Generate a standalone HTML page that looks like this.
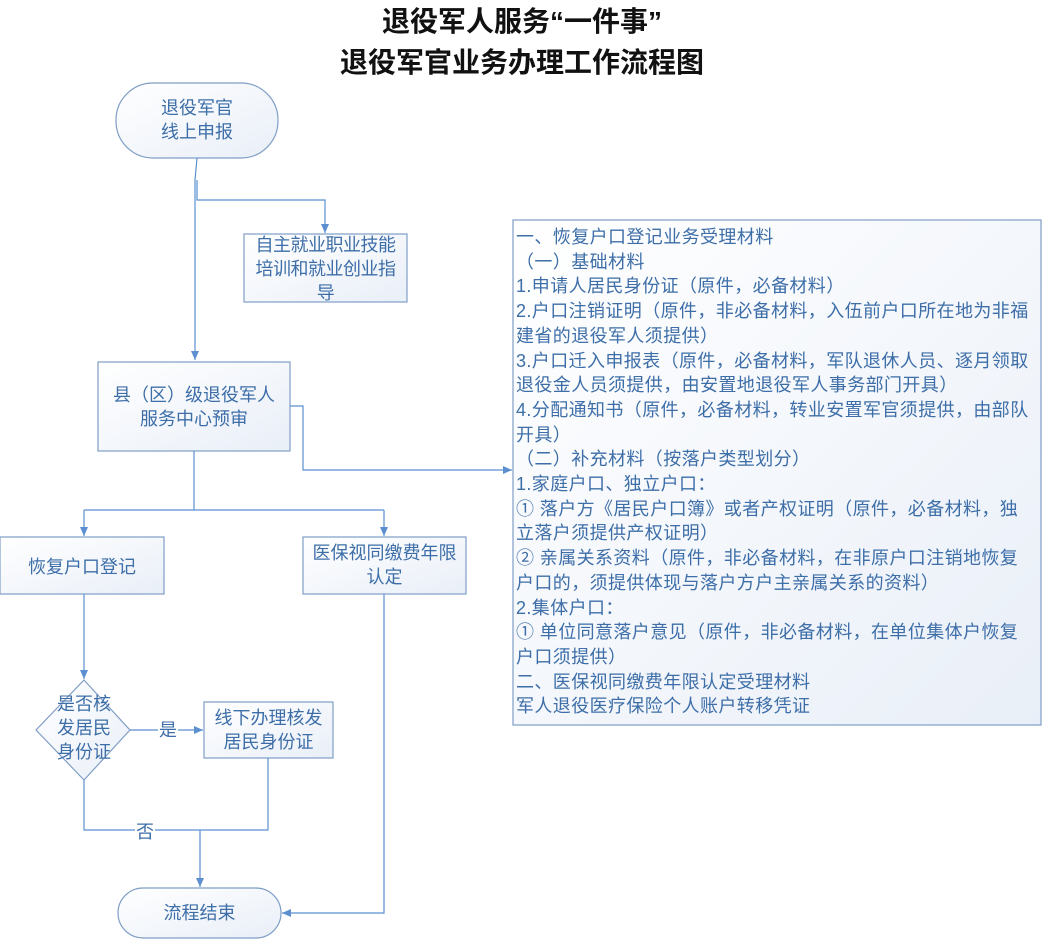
<!DOCTYPE html>
<html><head><meta charset="utf-8"><style>
body{margin:0;width:1044px;height:939px;background:#fff;position:relative;overflow:hidden;font-family:"Liberation Sans","Noto Sans CJK SC",sans-serif;}
.t{position:absolute;color:#3d6ea8;font-size:18px;text-align:center;line-height:24px;}
.title{position:absolute;left:0;width:1044px;text-align:center;font-size:28px;font-weight:bold;color:#111;line-height:32px;}
.big{position:absolute;left:516px;top:225px;color:#3d6ea8;font-size:18px;line-height:24.7px;white-space:nowrap;letter-spacing:0.4px;}
</style></head><body>
<div class="title" style="top:6px;">退役军人服务“一件事”</div>
<div class="title" style="top:47px;">退役军官业务办理工作流程图</div>
<svg width="1044" height="939" style="position:absolute;left:0;top:0">
<defs>
<linearGradient id="g" x1="0" y1="0" x2="1" y2="1"><stop offset="0" stop-color="#ffffff"/><stop offset="1" stop-color="#e9eff8"/></linearGradient>
<marker id="a" markerWidth="10" markerHeight="10" refX="9" refY="5" orient="auto" markerUnits="userSpaceOnUse"><path d="M0,1 L9,5 L0,9 z" fill="#5b8fd0"/></marker>
</defs>
<g fill="url(#g)" stroke="#7f9ec6" stroke-width="1.2">
<rect x="116" y="83" width="162" height="75" rx="37"/>
<rect x="244" y="234" width="163" height="68"/>
<rect x="98" y="362" width="192" height="89"/>
<rect x="0" y="537" width="164" height="57"/>
<rect x="303" y="537" width="163" height="57"/>
<polygon points="84,680 130,730 84,780 36,730"/>
<rect x="204" y="702" width="129" height="56"/>
<rect x="118" y="888" width="163" height="50" rx="25"/>
<rect x="513" y="220" width="528" height="505"/>
</g>
<g fill="none" stroke="#5b8fd0" stroke-width="1.2">
<path d="M197,158 L195,180 L195,360" marker-end="url(#a)"/>
<path d="M197,180 L197,200 L325,200 L325,233" marker-end="url(#a)"/>
<path d="M290,406 L303,406 L303,470 L512,470" marker-end="url(#a)"/>
<path d="M194,451 L194,510"/>
<path d="M84,510 L384,510"/>
<path d="M84,510 L84,536" marker-end="url(#a)"/>
<path d="M384,510 L384,536" marker-end="url(#a)"/>
<path d="M84,594 L84,679" marker-end="url(#a)"/>
<path d="M130,730 L203,730" marker-end="url(#a)"/>
<path d="M84,780 L84,830 L268,830 L268,758"/>
<path d="M200,830 L200,887" marker-end="url(#a)"/>
<path d="M384,594 L384,913 L282,913" marker-end="url(#a)"/>
</g>
<rect x="158" y="720" width="20" height="20" fill="#fff"/>
<rect x="135" y="822" width="20" height="18" fill="#fff"/>
</svg>
<div class="t" style="left:116px;top:96px;width:162px;">退役军官<br>线上申报</div>
<div class="t" style="left:244px;top:233px;width:163px;letter-spacing:-0.5px;">自主就业职业技能<br>培训和就业创业指<br>导</div>
<div class="t" style="left:98px;top:383px;width:192px;">县（区）级退役军人<br>服务中心预审</div>
<div class="t" style="left:0;top:555px;width:164px;">恢复户口登记</div>
<div class="t" style="left:303px;top:541px;width:163px;">医保视同缴费年限<br>认定</div>
<div class="t" style="left:36px;top:692px;width:96px;">是否核<br>发居民<br>身份证</div>
<div class="t" style="left:158px;top:718px;width:20px;">是</div>
<div class="t" style="left:204px;top:706px;width:129px;">线下办理核发<br>居民身份证</div>
<div class="t" style="left:135px;top:820px;width:20px;">否</div>
<div class="t" style="left:118px;top:901px;width:163px;">流程结束</div>
<div class="big">一、恢复户口登记业务受理材料<br>（一）基础材料<br>1.申请人居民身份证（原件，必备材料）<br>2.户口注销证明（原件，非必备材料，入伍前户口所在地为非福<br>建省的退役军人须提供）<br>3.户口迁入申报表（原件，必备材料，军队退休人员、逐月领取<br>退役金人员须提供，由安置地退役军人事务部门开具）<br>4.分配通知书（原件，必备材料，转业安置军官须提供，由部队<br>开具）<br>（二）补充材料（按落户类型划分）<br>1.家庭户口、独立户口：<br>① 落户方《居民户口簿》或者产权证明（原件，必备材料，独<br>立落户须提供产权证明）<br>② 亲属关系资料（原件，非必备材料，在非原户口注销地恢复<br>户口的，须提供体现与落户方户主亲属关系的资料）<br>2.集体户口：<br>① 单位同意落户意见（原件，非必备材料，在单位集体户恢复<br>户口须提供）<br>二、医保视同缴费年限认定受理材料<br>军人退役医疗保险个人账户转移凭证</div>
</body></html>
